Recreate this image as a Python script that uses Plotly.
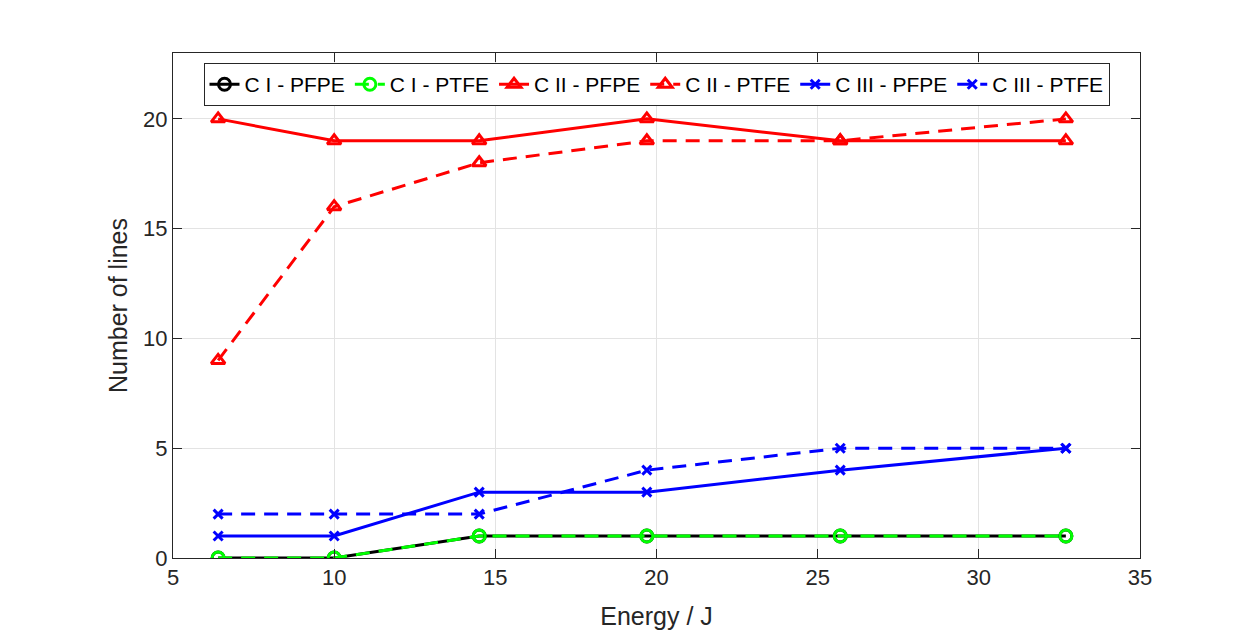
import plotly.graph_objects as go

energy = [6.4, 10.0, 14.5, 19.7, 25.7, 32.7]
ci_pfpe = [0, 0, 1, 1, 1, 1]
ci_ptfe = [0, 0, 1, 1, 1, 1]
cii_pfpe = [20, 19, 19, 20, 19, 19]
cii_ptfe = [9, 16, 18, 19, 19, 20]
ciii_pfpe = [1, 1, 3, 3, 4, 5]
ciii_ptfe = [2, 2, 2, 4, 5, 5]

DASH = "14px,9px"
series = [
    ("C I - PFPE", ci_pfpe, "#000000", "solid", "circle-open"),
    ("C I - PTFE", ci_ptfe, "#00FF00", DASH, "circle-open"),
    ("C II - PFPE", cii_pfpe, "#FF0000", "solid", "triangle-up-open"),
    ("C II - PTFE", cii_ptfe, "#FF0000", DASH, "triangle-up-open"),
    ("C III - PFPE", ciii_pfpe, "#0000FF", "solid", "x-thin-open"),
    ("C III - PTFE", ciii_ptfe, "#0000FF", DASH, "x-thin-open"),
]

fig = go.Figure()
for name, ys, col, dash, sym in series:
    fig.add_trace(go.Scatter(
        x=energy, y=ys, name=name, mode="lines+markers",
        line=dict(color=col, width=3, dash=dash),
        marker=dict(symbol=sym, size=12 if "x" not in sym else 9, color=col,
                    line=dict(color=col, width=3)),
    ))

FONT = "Liberation Sans, Arial"
axis_common = dict(
    showline=True, linecolor="#262626", linewidth=1, mirror="ticks",
    ticks="inside", ticklen=9, tickcolor="#262626",
    showgrid=True, gridcolor="#E3E3E3", gridwidth=1,
    zeroline=False,
    tickfont=dict(family=FONT, size=22, color="#262626"),
    title_font=dict(family=FONT, size=25, color="#262626"),
)

fig.update_layout(
    width=1248, height=630,
    margin=dict(l=173, r=108, t=53, b=72, autoexpand=False),
    paper_bgcolor="white", plot_bgcolor="white",
    xaxis=dict(range=[5, 35], dtick=5, automargin=False,
               title=dict(text="Energy / J", standoff=22), **axis_common),
    yaxis=dict(range=[0, 23], tickvals=[0, 5, 10, 15, 20], automargin=False,
               title=dict(text="Number of lines", standoff=8), **axis_common),
    legend=dict(
        orientation="h", x=0.5, xanchor="center", y=0.98, yanchor="top",
        bgcolor="white", bordercolor="#262626", borderwidth=1,
        font=dict(family=FONT, size=21, color="#000000"),
        itemwidth=30, tracegroupgap=0,
    ),
    showlegend=True,
)

fig.write_html("out.html")
